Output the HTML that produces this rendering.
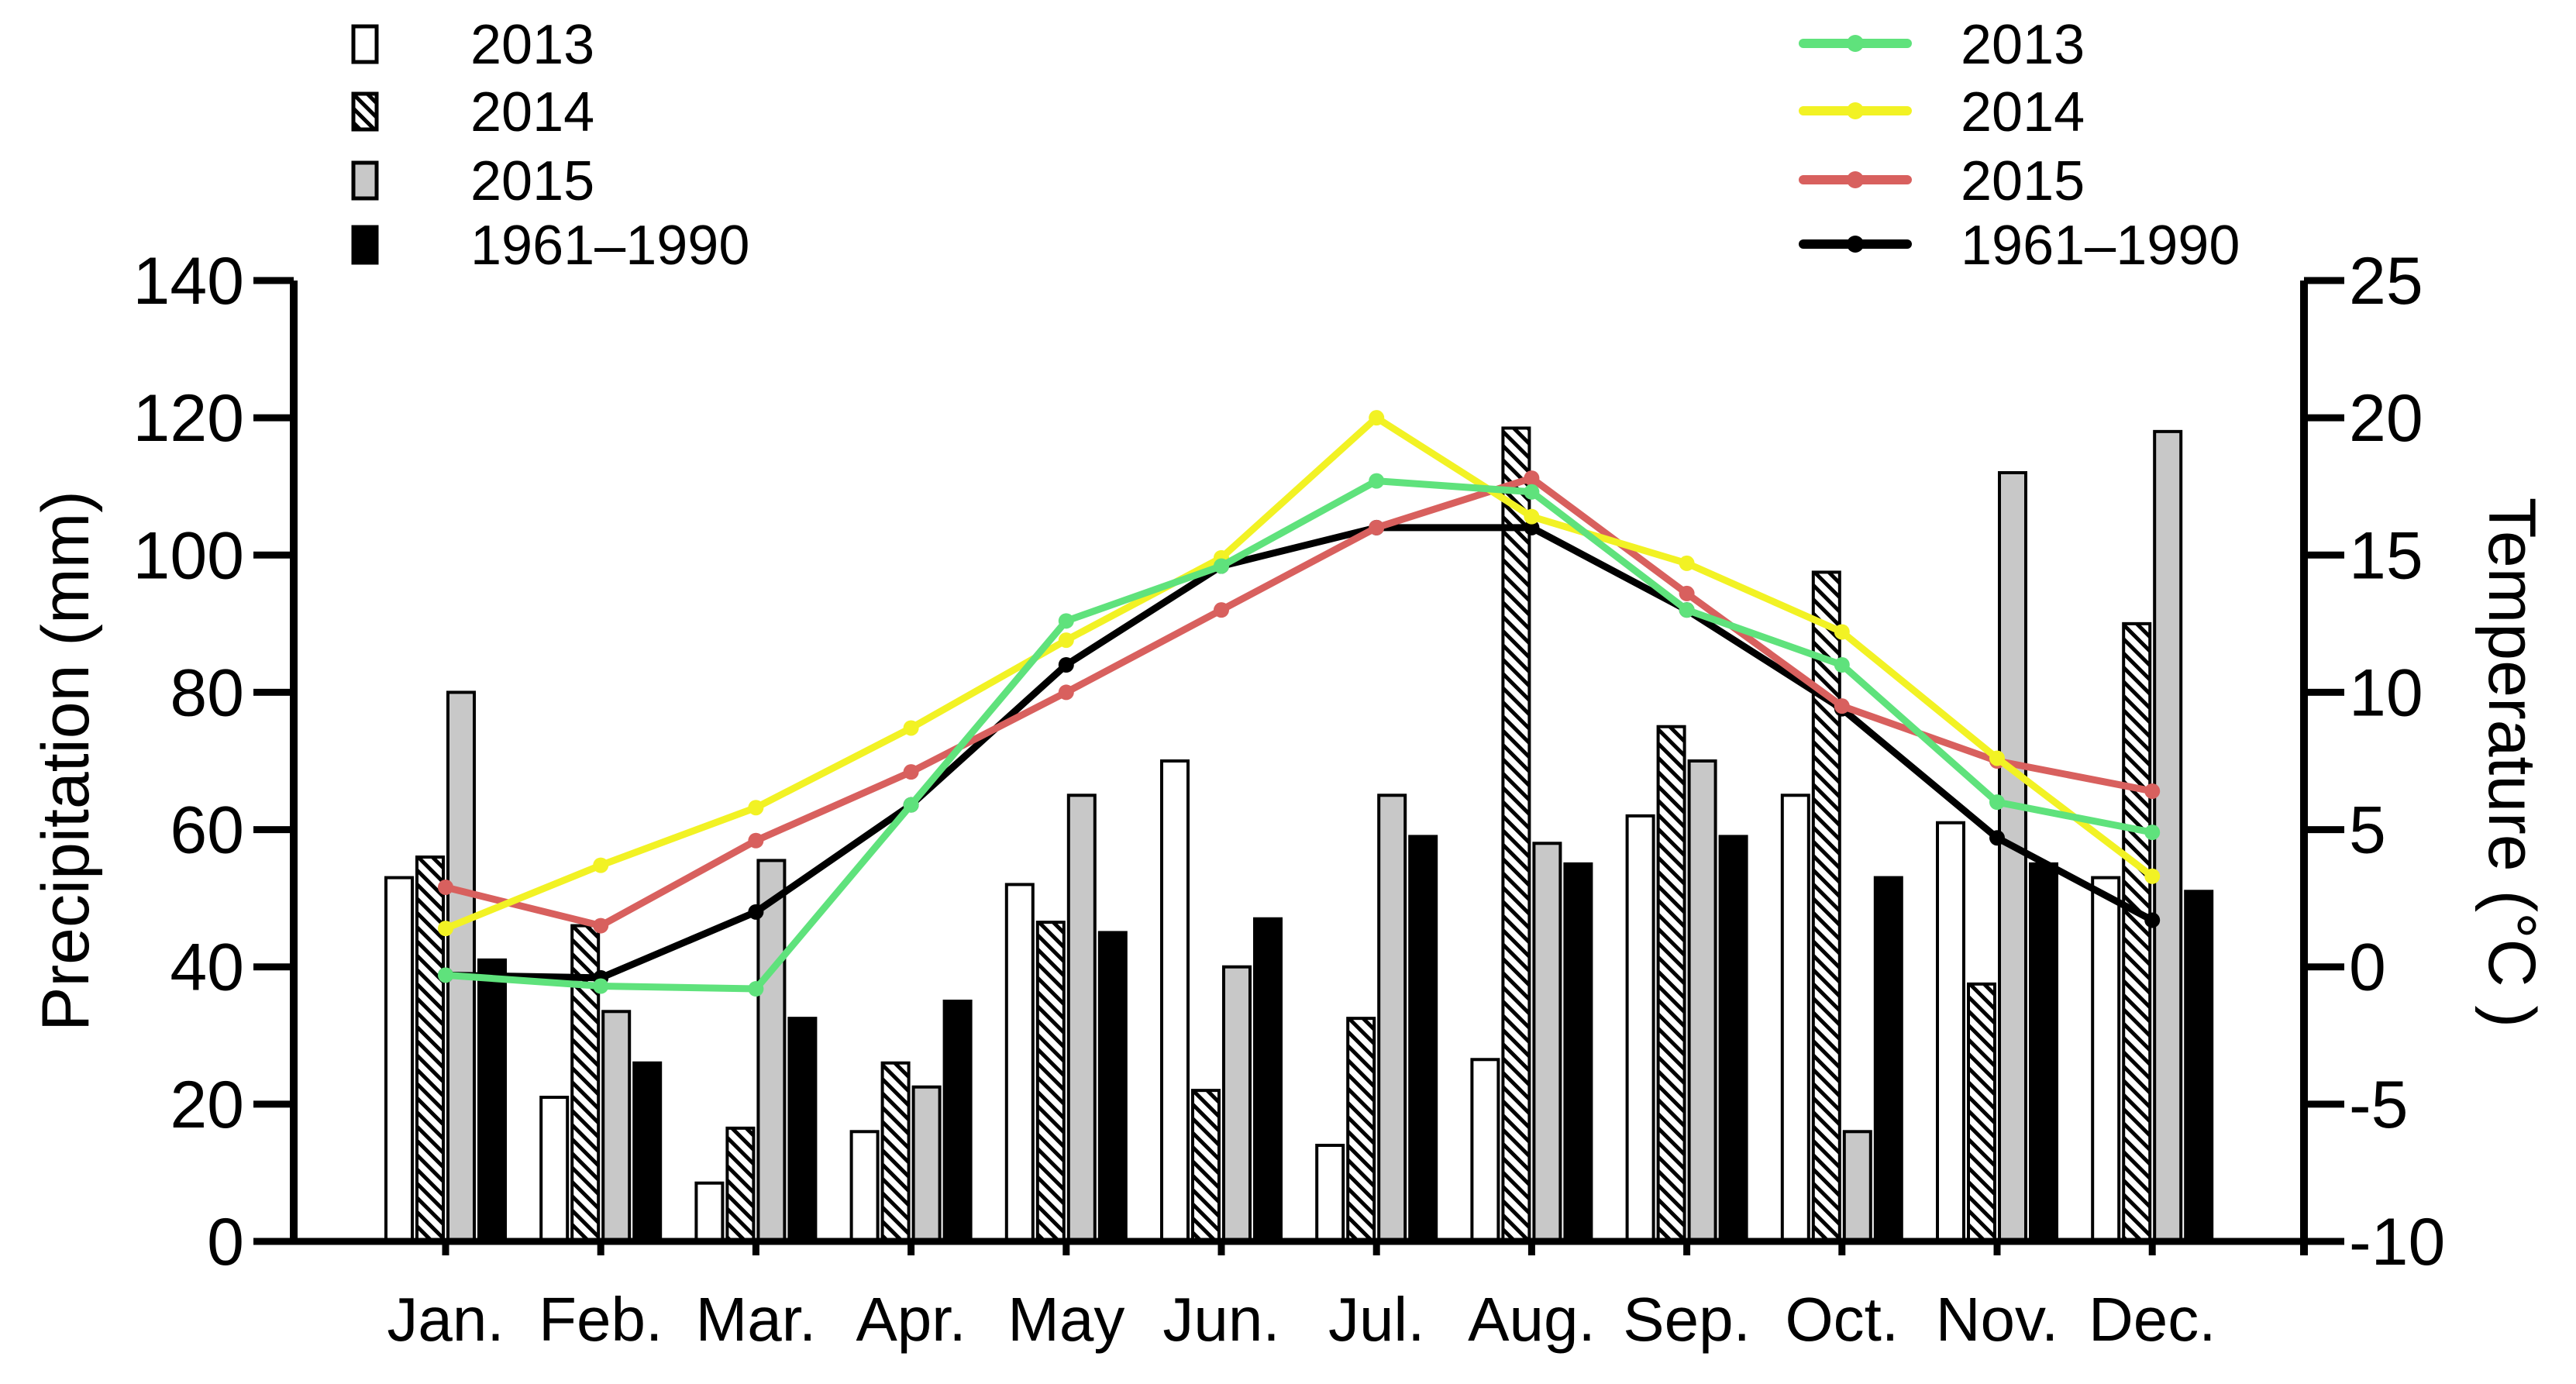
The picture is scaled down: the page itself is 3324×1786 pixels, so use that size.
<!DOCTYPE html>
<html><head><meta charset="utf-8"><style>
html,body{margin:0;padding:0;background:#fff;}
svg{display:block;font-family:"Liberation Sans",Arial,sans-serif;}
</style></head><body>
<svg id="chart" width="3324" height="1786" viewBox="0 0 3324 1786" xmlns="http://www.w3.org/2000/svg">
<defs>
<pattern id="hatch" patternUnits="userSpaceOnUse" width="13" height="13" patternTransform="rotate(-45)">
<rect width="13" height="13" fill="#fff"/><rect x="0" y="0" width="5" height="13" fill="#000"/>
</pattern>
</defs>
<g id="bars"></g>
<g id="lines"></g>
<g id="axes"></g>
<g id="legend"></g>
</svg>
<script>
const months = ["Jan.","Feb.","Mar.","Apr.","May","Jun.","Jul.","Aug.","Sep.","Oct.","Nov.","Dec."];
const precipSeries = ["2013","2014","2015","1961–1990"];
const precip2013 = [53,21,8.5,16,52,70,14,26.5,62,65,61,53];
const precip2014 = [56,46,16.5,26,46.5,22,32.5,118.5,75,97.5,37.5,90];
const precip2015 = [80,33.5,55.5,22.5,65,40,65,58,70,16,112,118];
const precipNormal = [41,26,32.5,35,45,47,59,55,59,53,55,51];
const temp2013 = [-0.3,-0.7,-0.8,5.9,12.6,14.6,17.7,17.3,13,11,6,4.9];
const temp2014 = [1.4,3.7,5.8,8.7,11.9,14.9,20,16.4,14.7,12.2,7.6,3.3];
const temp2015 = [2.9,1.5,4.6,7.1,10,13,16,17.8,13.6,9.5,7.5,6.4];
const tempNormal = [-0.3,-0.4,2,5.9,11,14.6,16,16,13,9.4,4.7,1.7];
const leftTicks = [0,20,40,60,80,100,120,140];
const rightTicks = [-10,-5,0,5,10,15,20,25];

const NS="http://www.w3.org/2000/svg";
const X0=379, X1=2973, Y0=1602, Ytop=362;
const yP = v => Y0 - (v/140)*(Y0-Ytop);
const yT = v => Y0 - ((v+10)/35)*(Y0-Ytop);
const xM = i => 575 + i*200.2;
function mk(tag, attrs, parent){const e=document.createElementNS(NS,tag);for(const k in attrs)e.setAttribute(k,attrs[k]);parent.appendChild(e);return e;}

const bars=document.getElementById('bars');
const pData=[precip2013,precip2014,precip2015,precipNormal];
const pFill=["#fff","url(#hatch)","#c8c8c8","#000"];
const BW=34, GAP=6;
pData.forEach((arr,s)=>{
  arr.forEach((v,i)=>{
    const x = xM(i) - 2*BW - 1.5*GAP + s*(BW+GAP);
    const r=mk('rect',{x:x,y:yP(v),width:BW,height:Y0-yP(v),fill:pFill[s],stroke:"#000","stroke-width":4},bars);
    
    
  });
});

const lines=document.getElementById('lines');
const tData=[temp2013,temp2014,temp2015,tempNormal];
const tCol=["#5fe27c","#f2f224","#d8605e","#000"];
const order=[3,2,1,0];
order.forEach(s=>{
  const arr=tData[s];
  const pts=arr.map((v,i)=>xM(i)+','+yT(v)).join(' ');
  const pl=mk('polyline',{points:pts,fill:"none",stroke:tCol[s],"stroke-width":9,"stroke-linejoin":"round"},lines);
  
  
  arr.forEach((v,i)=>{
    const c=mk('circle',{cx:xM(i),cy:yT(v),r:10,fill:tCol[s]},lines);
    
    
  });
});

const axes=document.getElementById('axes');
mk('line',{x1:X0,y1:Ytop,x2:X0,y2:Y0+4,stroke:"#000","stroke-width":10},axes);
mk('line',{x1:X1,y1:Ytop,x2:X1,y2:Y0+18,stroke:"#000","stroke-width":10},axes);
mk('line',{x1:X0,y1:Y0,x2:X1,y2:Y0,stroke:"#000","stroke-width":9},axes);
leftTicks.forEach(v=>{
  mk('line',{x1:X0-52,y1:yP(v),x2:X0,y2:yP(v),stroke:"#000","stroke-width":9},axes);
  const t=mk('text',{x:X0-64,y:yP(v)+30,"text-anchor":"end","font-size":86},axes);
  t.textContent=v;
  
  
});
rightTicks.forEach(v=>{
  mk('line',{x1:X1,y1:yT(v),x2:X1+52,y2:yT(v),stroke:"#000","stroke-width":9},axes);
  const t=mk('text',{x:X1+58,y:yT(v)+30,"text-anchor":"start","font-size":86},axes);
  t.textContent=v;
  
  
});
months.forEach((m,i)=>{
  mk('line',{x1:xM(i),y1:Y0,x2:xM(i),y2:Y0+18,stroke:"#000","stroke-width":9},axes);
  const t=mk('text',{x:xM(i),y:1730,"text-anchor":"middle","font-size":80},axes);
  t.textContent=m;
  
  
});
const lt=mk('text',{x:0,y:0,"text-anchor":"middle","font-size":86,transform:"translate(114,982) rotate(-90)"},axes);
lt.textContent="Precipitation (mm)";


const rt=mk('text',{x:0,y:0,"text-anchor":"middle","font-size":86,transform:"translate(3212,984) rotate(90)"},axes);
rt.textContent="Temperature (°C )";



const legend=document.getElementById('legend');
const rowsY=[56,143,232,315];
precipSeries.forEach((s,k)=>{
  const r=mk('rect',{x:456,y:rowsY[k]-22,width:30,height:46,fill:pFill[k],stroke:"#000","stroke-width":5},legend);
  
  
  const t=mk('text',{x:607,y:rowsY[k]+26,"font-size":72},legend);
  t.textContent=s;
  
  
  const l=mk('line',{x1:2327,y1:rowsY[k],x2:2461,y2:rowsY[k],stroke:tCol[k],"stroke-width":12,"stroke-linecap":"round"},legend);
  
  
  mk('circle',{cx:2394,cy:rowsY[k],r:11,fill:tCol[k]},legend);
  const t2=mk('text',{x:2530,y:rowsY[k]+26,"font-size":72},legend);
  t2.textContent=s;
  
  
});
</script>
</body></html>
